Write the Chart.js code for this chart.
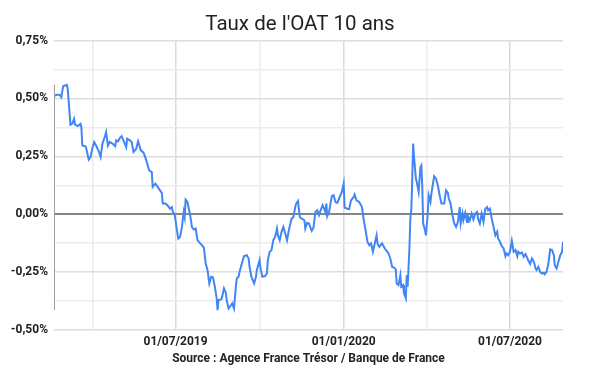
<!DOCTYPE html>
<html>
<head>
<meta charset="utf-8">
<script src="https://cdn.jsdelivr.net/npm/chart.js@4/dist/chart.umd.min.js"></script>
<style>
  html, body { margin: 0; padding: 0; background: #fff; }
  #wrap { width: 600px; height: 371px; }
</style>
</head>
<body>
<div id="wrap"><canvas id="oat-chart"></canvas></div>
<script>
// Taux de l'OAT 10 ans (en %)
const dates = [
  '2019-02-18','2019-02-21','2019-02-24','2019-02-26','2019-02-28','2019-03-04','2019-03-05','2019-03-08',
  '2019-03-10','2019-03-12','2019-03-13','2019-03-16','2019-03-19','2019-03-20','2019-03-21','2019-03-24',
  '2019-03-25','2019-03-28','2019-03-30','2019-04-01','2019-04-03','2019-04-05','2019-04-08','2019-04-10',
  '2019-04-12','2019-04-15','2019-04-16','2019-04-18','2019-04-20','2019-04-23','2019-04-26','2019-04-27',
  '2019-04-29','2019-05-01','2019-05-03','2019-05-05','2019-05-08','2019-05-09','2019-05-12','2019-05-14',
  '2019-05-16','2019-05-19','2019-05-21','2019-05-24','2019-05-27','2019-05-30','2019-06-02','2019-06-05',
  '2019-06-06','2019-06-09','2019-06-11','2019-06-14','2019-06-16','2019-06-17','2019-06-20','2019-06-22',
  '2019-06-25','2019-06-27','2019-06-28','2019-06-30','2019-07-02','2019-07-04','2019-07-06','2019-07-08',
  '2019-07-09','2019-07-10','2019-07-11','2019-07-12','2019-07-14','2019-07-17','2019-07-19','2019-07-21',
  '2019-07-23','2019-07-25','2019-07-28','2019-07-30','2019-08-01','2019-08-03','2019-08-05','2019-08-07',
  '2019-08-09','2019-08-11','2019-08-13','2019-08-15','2019-08-16','2019-08-17','2019-08-20','2019-08-21',
  '2019-08-23','2019-08-25','2019-08-26','2019-08-28','2019-08-31','2019-09-01','2019-09-03','2019-09-05',
  '2019-09-06','2019-09-08','2019-09-09','2019-09-11','2019-09-14','2019-09-17','2019-09-19','2019-09-20',
  '2019-09-22','2019-09-25','2019-09-27','2019-09-28','2019-10-01','2019-10-02','2019-10-04','2019-10-07',
  '2019-10-09','2019-10-10','2019-10-12','2019-10-14','2019-10-16','2019-10-18','2019-10-20','2019-10-21',
  '2019-10-23','2019-10-25','2019-10-27','2019-10-29','2019-10-31','2019-11-02','2019-11-05','2019-11-07',
  '2019-11-09','2019-11-10','2019-11-12','2019-11-14','2019-11-16','2019-11-19','2019-11-20','2019-11-22',
  '2019-11-24','2019-11-27','2019-11-29','2019-12-01','2019-12-03','2019-12-05','2019-12-07','2019-12-09',
  '2019-12-12','2019-12-13','2019-12-14','2019-12-16','2019-12-19','2019-12-21','2019-12-23','2019-12-25',
  '2019-12-27','2019-12-30','2020-01-01','2020-01-02','2020-01-05','2020-01-07','2020-01-09','2020-01-12',
  '2020-01-13','2020-01-15','2020-01-18','2020-01-21','2020-01-23','2020-01-25','2020-01-27','2020-01-29',
  '2020-01-31','2020-02-02','2020-02-04','2020-02-06','2020-02-07','2020-02-09','2020-02-12','2020-02-15',
  '2020-02-17','2020-02-19','2020-02-21','2020-02-23','2020-02-25','2020-02-27','2020-02-28','2020-03-01',
  '2020-03-03','2020-03-04','2020-03-06','2020-03-07','2020-03-09','2020-03-10','2020-03-11','2020-03-13',
  '2020-03-14','2020-03-15','2020-03-16','2020-03-17','2020-03-18','2020-03-20','2020-03-21','2020-03-23',
  '2020-03-25','2020-03-26','2020-03-27','2020-03-28','2020-03-30','2020-03-31','2020-04-02','2020-04-03',
  '2020-04-05','2020-04-06','2020-04-09','2020-04-11','2020-04-13','2020-04-15','2020-04-17','2020-04-20',
  '2020-04-22','2020-04-24','2020-04-25','2020-04-27','2020-04-29','2020-05-01','2020-05-03','2020-05-05',
  '2020-05-07','2020-05-08','2020-05-10','2020-05-11','2020-05-13','2020-05-15','2020-05-16','2020-05-18',
  '2020-05-20','2020-05-22','2020-05-24','2020-05-26','2020-05-27','2020-05-29','2020-05-31','2020-06-02',
  '2020-06-04','2020-06-06','2020-06-07','2020-06-09','2020-06-11','2020-06-13','2020-06-15','2020-06-17',
  '2020-06-18','2020-06-20','2020-06-22','2020-06-24','2020-06-26','2020-06-27','2020-06-29','2020-07-01',
  '2020-07-03','2020-07-05','2020-07-07','2020-07-09','2020-07-10','2020-07-12','2020-07-14','2020-07-16',
  '2020-07-18','2020-07-20','2020-07-21','2020-07-23','2020-07-25','2020-07-27','2020-07-29','2020-07-30',
  '2020-08-01','2020-08-03','2020-08-05','2020-08-07','2020-08-08','2020-08-10','2020-08-12','2020-08-14',
  '2020-08-16','2020-08-18','2020-08-19','2020-08-21','2020-08-23','2020-08-25','2020-08-27','2020-08-28'
];

const rates = [
  0.510, 0.516, 0.516, 0.506, 0.553, 0.559, 0.542, 0.387,
  0.391, 0.412, 0.387, 0.381, 0.391, 0.374, 0.297, 0.294,
  0.290, 0.236, 0.247, 0.286, 0.312, 0.297, 0.272, 0.247,
  0.305, 0.340, 0.355, 0.297, 0.312, 0.305, 0.294, 0.319,
  0.315, 0.329, 0.337, 0.319, 0.290, 0.326, 0.319, 0.312,
  0.269, 0.283, 0.315, 0.276, 0.266, 0.233, 0.190, 0.182,
  0.118, 0.132, 0.121, 0.103, 0.092, 0.046, 0.046, 0.039,
  0.024, 0.031, 0.010, 0.000, -0.055, -0.105, -0.098, -0.055,
  -0.019, 0.010, -0.012, 0.063, 0.053, -0.004, -0.057, -0.066,
  -0.062, -0.112, -0.126, -0.134, -0.144, -0.213, -0.241, -0.299,
  -0.270, -0.273, -0.313, -0.363, -0.414, -0.371, -0.368, -0.356,
  -0.320, -0.339, -0.371, -0.407, -0.392, -0.385, -0.407, -0.313,
  -0.277, -0.270, -0.250, -0.220, -0.181, -0.177, -0.191, -0.227,
  -0.270, -0.299, -0.270, -0.241, -0.198, -0.234, -0.270, -0.267,
  -0.256, -0.198, -0.162, -0.155, -0.112, -0.098, -0.062, -0.091,
  -0.112, -0.076, -0.055, -0.083, -0.112, -0.069, -0.019, -0.012,
  0.031, 0.046, 0.057, -0.012, -0.019, -0.026, -0.062, -0.037,
  -0.040, -0.072, -0.057, 0.010, 0.017, -0.004, 0.020, 0.039,
  0.010, 0.046, -0.009, 0.010, 0.078, 0.082, 0.053, 0.049,
  0.068, 0.096, 0.132, 0.029, 0.024, 0.022, 0.060, 0.075,
  0.085, 0.060, 0.053, 0.031, -0.026, -0.069, -0.119, -0.134,
  -0.126, -0.162, -0.126, -0.091, -0.126, -0.141, -0.126, -0.148,
  -0.158, -0.169, -0.191, -0.227, -0.230, -0.238, -0.299, -0.306,
  -0.263, -0.313, -0.306, -0.342, -0.363, -0.263, -0.313, -0.141,
  -0.012, 0.017, 0.147, 0.305, 0.247, 0.154, 0.139, 0.096,
  0.204, 0.211, 0.118, -0.040, -0.069, -0.091, 0.003, 0.082,
  0.053, 0.090, 0.164, 0.154, 0.125, 0.082, 0.046, 0.046,
  0.103, 0.092, 0.068, 0.046, -0.004, -0.040, -0.055, -0.033,
  0.031, -0.040, 0.003, -0.026, 0.006, -0.033, -0.009, -0.026,
  0.003, -0.023, 0.003, 0.010, -0.019, -0.040, 0.003, -0.033,
  0.024, 0.031, 0.017, 0.024, -0.019, -0.055, -0.091, -0.076,
  -0.105, -0.119, -0.138, -0.148, -0.181, -0.169, -0.177, -0.162,
  -0.115, -0.162, -0.155, -0.181, -0.162, -0.170, -0.165, -0.184,
  -0.172, -0.190, -0.200, -0.215, -0.191, -0.205, -0.234, -0.241,
  -0.227, -0.249, -0.256, -0.253, -0.259, -0.249, -0.213, -0.152,
  -0.155, -0.177, -0.220, -0.234, -0.205, -0.177, -0.162, -0.119
];

// Grille verticale trimestrielle, libellés seulement en janvier / juillet
const gridDates = ['2019-04-01', '2019-07-01', '2019-10-01', '2020-01-01', '2020-04-01', '2020-07-01'];
const gridLabels = ['', '01/07/2019', '', '01/01/2020', '', '01/07/2020'];

const dayOf = (s) => Date.parse(s + 'T00:00:00Z') / 86400000;

const points = dates.map((d, i) => ({ x: dayOf(d), y: rates[i] }));
const gridDays = gridDates.map(dayOf);

// trait gris vertical à gauche, du max au min de la série
const rangeLine = {
  id: 'rangeLine',
  afterDatasetsDraw(chart) {
    const { ctx, chartArea, scales } = chart;
    const yTop = scales.y.getPixelForValue(Math.max(...rates));
    const yBot = scales.y.getPixelForValue(Math.min(...rates));
    ctx.save();
    ctx.strokeStyle = '#9e9e9e';
    ctx.lineWidth = 1;
    ctx.beginPath();
    ctx.moveTo(chartArea.left + 0.5, yTop);
    ctx.lineTo(chartArea.left + 0.5, yBot);
    ctx.stroke();
    ctx.restore();
  }
};

const tickFont = { family: 'Roboto', size: 12, weight: 'bold' };

new Chart(document.getElementById('oat-chart'), {
  type: 'line',
  data: {
    datasets: [{
      label: "OAT 10 ans",
      data: points,
      borderColor: '#4285f4',
      borderWidth: 2,
      pointRadius: 0,
      tension: 0,
      fill: false
    }]
  },
  options: {
    responsive: true,
    maintainAspectRatio: false,
    animation: false,
    layout: { padding: 0 },
    plugins: {
      legend: { display: false },
      tooltip: { enabled: false },
      title: {
        display: true,
        text: "Taux de l'OAT 10 ans",
        color: '#222',
        font: { family: 'Roboto', size: 20.5, weight: 'normal' },
        padding: { top: 13, bottom: 3 }
      }
    },
    scales: {
      x: {
        type: 'linear',
        min: points[0].x,
        max: points[points.length - 1].x,
        afterBuildTicks: (scale) => {
          scale.ticks = gridDays.map(v => ({ value: v }));
        },
        afterFit: (scale) => { scale.height = 41; },
        ticks: {
          autoSkip: false,
          maxRotation: 0,
          padding: 5,
          color: '#222',
          font: tickFont,
          callback: (val) => {
            const i = gridDays.indexOf(val);
            return i >= 0 ? gridLabels[i] : '';
          }
        },
        grid: {
          drawTicks: false,
          lineWidth: 1.5,
          color: (c) => {
            const i = gridDays.indexOf(c.tick && c.tick.value);
            return gridLabels[i] ? '#dadada' : '#ececec';
          }
        },
        border: { display: false },
        title: {
          display: true,
          text: 'Source : Agence France Trésor / Banque de France',
          color: '#222',
          font: tickFont,
          padding: { top: 0, bottom: 5 }
        }
      },
      y: {
        min: -0.5,
        max: 0.75,
        afterFit: (scale) => { scale.width = 54; },
        ticks: {
          stepSize: 0.125,
          padding: 6,
          color: '#222',
          font: tickFont,
          callback: (v) => {
            const q = v * 4;
            if (Math.abs(q - Math.round(q)) > 1e-6) return '';
            return v.toFixed(2).replace('.', ',') + '%';
          }
        },
        grid: {
          drawTicks: false,
          color: (c) => {
            const v = c.tick.value;
            if (Math.abs(v) < 1e-9) return '#858585';
            const q = v * 4;
            return Math.abs(q - Math.round(q)) < 1e-6 ? '#dedede' : '#ececec';
          },
          lineWidth: (c) => Math.abs(c.tick.value) < 1e-9 ? 2 : 1.5
        },
        border: { display: false }
      },
      // marge droite vide
      yRight: {
        position: 'right',
        afterFit: (scale) => { scale.width = 37; },
        ticks: { display: false },
        grid: { display: false, drawOnChartArea: false },
        border: { display: false }
      }
    }
  },
  plugins: [rangeLine]
});
</script>
</body>
</html>
